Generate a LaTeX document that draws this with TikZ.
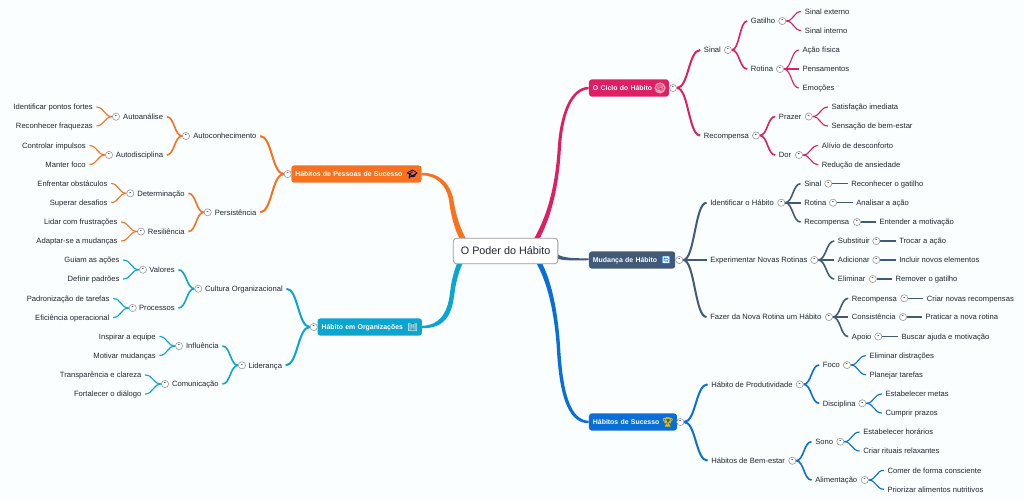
\documentclass[tikz,border=0pt]{standalone}
\usepackage{fontspec}
\setmainfont{Liberation Sans}
\newfontfamily\emo{Noto Emoji}
\newfontfamily\emob[FakeBold=2]{Noto Emoji}
\usetikzlibrary{calc,backgrounds}
\definecolor{cpink}{HTML}{E01E63}
\definecolor{cslate}{HTML}{425A78}
\definecolor{cblue}{HTML}{0A6ED8}
\definecolor{corange}{HTML}{F8711F}
\definecolor{cteal}{HTML}{0BA6CF}
\definecolor{ctxt}{HTML}{1F2730}
\definecolor{cbg}{HTML}{FBFEFF}
\tikzset{
  lbl/.style={inner xsep=2.6pt,inner ysep=0pt,text height=5pt,text depth=.6pt,font=\fontsize{5.72}{7}\selectfont,text=ctxt},
  tog/.style={circle,draw=black!40,fill=white,line width=.45pt,minimum size=5.4pt,inner sep=0pt,text=ctxt,font=\bfseries\fontsize{4.6}{5}\selectfont},
  box/.style={rounded corners=2.2pt,fill=#1,text=white,anchor=west,inner xsep=3pt,inner ysep=0pt,minimum height=13pt,text height=4.8pt,text depth=.6pt,align=left,font=\bfseries\fontsize{5.18}{7}\selectfont},
  la/.style={line width=1.5pt},
  lb/.style={line width=1.2pt},
  lc/.style={line width=.85pt},
  emj/.style={inner sep=0pt,font=\emo\fontsize{6.3}{7}\selectfont}
}
\newcommand\Rl[4]{\node[lbl,anchor=west,xshift=-2.6pt] (#1) at (#2,#3) {#4};}
\newcommand\Ll[4]{\node[lbl,anchor=east,xshift=2.6pt] (#1) at (#2,#3) {#4};}
\newcommand\Tg[3]{\node[tog] (#1) at (#2,#3) {-};}
\newcommand\Lk[3][la]{\coordinate (mm) at ($(#2)!.5!(#3)$);\draw[#1] (#2) .. controls (mm |- #2) and (mm |- #3) .. (#3);}
\begin{document}
\begin{tikzpicture}[x=.75pt,y=-.75pt]
\useasboundingbox (0,0) rectangle (1024,501);
\node[draw=black!40,fill=white,rounded corners=2.5pt,line width=.6pt,minimum width=78.4pt,minimum height=19.2pt,inner sep=0pt,text height=6.2pt,text depth=.8pt,font=\fontsize{8.1}{10}\selectfont,text=ctxt] (root) at (505.6,251) {O Poder do Hábito};
% boxes
\node[box=cpink,text width=54pt] (b1) at (588.7,88) {O Ciclo do Hábito};
\node[box=cslate,text width=58.7pt] (b2) at (588.7,260) {Mudança de Hábito};
\node[box=cblue,text width=60pt] (b3) at (588.7,422) {Hábitos de Sucesso};
\node[box=corange,text width=91.7pt] (b4) at (291,174) {Hábitos de Pessoas de Sucesso};
\node[box=cteal,text width=72.3pt] (b5) at (317.3,327) {Hábito em Organizações};
% emoji
\node[emj,circle,fill=cpink!45!white,minimum size=4.6pt,text=cpink!80!black] (e1) at (660,88) {\fontsize{5.5}{6}\selectfont 🧠};
\node[emj,fill=cblue,rounded corners=.5pt,minimum size=6.6pt,text=white] (e2) at (666,260) {\fontsize{5}{6}\selectfont 🔄};
\node[emj,font=\emob\fontsize{6.8}{7}\selectfont,text=yellow!65!orange!90!black] (e3) at (667.7,422) {🏆};
\node[emj,font=\emob\fontsize{6.3}{7}\selectfont,text=black!75!blue] (e4) at (412.3,174) {🎓};
\node[emj,fill=cteal!35!white,minimum size=6.6pt,text=cteal!70!black] (e5) at (412.7,327) {\fontsize{5.2}{6}\selectfont 🏢};
% toggles of boxes
\Tg{tb1}{673}{88}\Tg{tb2}{679.3}{260}\Tg{tb3}{680.3}{422}\Tg{tb4}{287.7}{174}\Tg{tb5}{313.7}{327}
% pink branch
\Rl{A}{703.7}{50}{Sinal}\Tg{tA}{728}{50}
\Rl{Aa}{750.7}{21}{Gatilho}\Tg{tAa}{782.3}{21}
\Rl{Aax}{804.7}{11.5}{Sinal externo}
\Rl{Aay}{804.7}{30.5}{Sinal interno}
\Rl{Ab}{750.7}{69}{Rotina}\Tg{tAb}{780}{69}
\Rl{Abx}{802.3}{50}{Ação física}
\Rl{Aby}{802.3}{69}{Pensamentos}
\Rl{Abz}{802.3}{88}{Emoções}
\Rl{B}{703.7}{135.5}{Recompensa}\Tg{tB}{756}{135.5}
\Rl{Ba}{778.7}{116.5}{Prazer}\Tg{tBa}{808.7}{116.5}
\Rl{Bax}{831.3}{107}{Satisfação imediata}
\Rl{Bay}{831.3}{126}{Sensação de bem-estar}
\Rl{Bb}{778.7}{155}{Dor}\Tg{tBb}{799}{155}
\Rl{Bbx}{821.7}{145.5}{Alívio de desconforto}
\Rl{Bby}{821.7}{164.5}{Redução de ansiedade}
% slate branch
\Rl{C}{710}{202.7}{Identificar o Hábito}\Tg{tC}{781.3}{202.7}
\Rl{Ca}{804}{183.7}{Sinal}\Tg{tCa}{828.3}{183.7}
\Rl{Cax}{851}{183.7}{Reconhecer o gatilho}
\Rl{Cb}{804}{202.7}{Rotina}\Tg{tCb}{833}{202.7}
\Rl{Cbx}{856}{202.7}{Analisar a ação}
\Rl{Cc}{804}{222}{Recompensa}\Tg{tCc}{857}{222}
\Rl{Ccx}{879.3}{222}{Entender a motivação}
\Rl{D}{710}{260}{Experimentar Novas Rotinas}\Tg{tD}{814.3}{260}
\Rl{Da}{837.7}{241}{Substituir}\Tg{tDa}{876.3}{241}
\Rl{Dax}{899}{241}{Trocar a ação}
\Rl{Db}{837.7}{260}{Adicionar}\Tg{tDb}{876.3}{260}
\Rl{Dbx}{899}{260}{Incluir novos elementos}
\Rl{Dc}{837.7}{279}{Eliminar}\Tg{tDc}{872.7}{279}
\Rl{Dcx}{895.3}{279}{Remover o gatilho}
\Rl{E}{710}{317}{Fazer da Nova Rotina um Hábito}\Tg{tE}{829}{317}
\Rl{Ea}{851.7}{298.3}{Recompensa}\Tg{tEa}{904.3}{298.3}
\Rl{Eax}{926.7}{298.3}{Criar novas recompensas}
\Rl{Eb}{851.7}{317}{Consistência}\Tg{tEb}{903}{317}
\Rl{Ebx}{925.3}{317}{Praticar a nova rotina}
\Rl{Ec}{851.7}{336.5}{Apoio}\Tg{tEc}{878.3}{336.5}
\Rl{Ecx}{901.3}{336.5}{Buscar ajuda e motivação}
% blue branch
\Rl{F}{711}{384.3}{Hábito de Produtividade}\Tg{tF}{799.7}{384.3}
\Rl{Fa}{822.7}{365}{Foco}\Tg{tFa}{847}{365}
\Rl{Fax}{869.3}{355.7}{Eliminar distrações}
\Rl{Fay}{869.3}{374.7}{Planejar tarefas}
\Rl{Fb}{822.7}{403.3}{Disciplina}\Tg{tFb}{862.3}{403.3}
\Rl{Fbx}{885.3}{394}{Estabelecer metas}
\Rl{Fby}{885.3}{413}{Cumprir prazos}
\Rl{G}{711}{460.7}{Hábitos de Bem-estar}\Tg{tG}{792.3}{460.7}
\Rl{Ga}{815}{441.7}{Sono}\Tg{tGa}{840.3}{441.7}
\Rl{Gax}{863}{432}{Estabelecer horários}
\Rl{Gay}{863}{451}{Criar rituais relaxantes}
\Rl{Gb}{815}{480}{Alimentação}\Tg{tGb}{864.7}{480}
\Rl{Gbx}{887.3}{470.3}{Comer de forma consciente}
\Rl{Gby}{887.3}{489.3}{Priorizar alimentos nutritivos}
% orange branch
\Ll{H}{256.7}{136}{Autoconhecimento}\Tg{tH}{186}{136}
\Ll{Ha}{163.3}{116.7}{Autoanálise}\Tg{tHa}{116}{116.7}
\Ll{Hax}{93}{107}{Identificar pontos fortes}
\Ll{Hay}{93}{126}{Reconhecer fraquezas}
\Ll{Hb}{163.3}{155}{Autodisciplina}\Tg{tHb}{109}{155}
\Ll{Hbx}{86}{145.5}{Controlar impulsos}
\Ll{Hby}{86}{164.5}{Manter foco}
\Ll{I}{256.7}{212.3}{Persistência}\Tg{tI}{207.7}{212.3}
\Ll{Ia}{185}{193.3}{Determinação}\Tg{tIa}{130.3}{193.3}
\Ll{Iax}{107.7}{183.5}{Enfrentar obstáculos}
\Ll{Iay}{107.7}{202.5}{Superar desafios}
\Ll{Ib}{185}{231.5}{Resiliência}\Tg{tIb}{141}{231.5}
\Ll{Ibx}{117.7}{222}{Lidar com frustrações}
\Ll{Iby}{117.7}{241}{Adaptar-se a mudanças}
% teal branch
\Ll{J}{283}{288.7}{Cultura Organizacional}\Tg{tJ}{198.3}{288.7}
\Ll{Ja}{175}{269.7}{Valores}\Tg{tJa}{143}{269.7}
\Ll{Jax}{119.7}{260}{Guiam as ações}
\Ll{Jay}{119.7}{279}{Definir padrões}
\Ll{Jb}{175}{308}{Processos}\Tg{tJb}{132.7}{308}
\Ll{Jbx}{109.7}{298.5}{Padronização de tarefas}
\Ll{Jby}{109.7}{317.5}{Eficiência operacional}
\Ll{K}{282.3}{365.3}{Liderança}\Tg{tK}{242}{365.3}
\Ll{Ka}{219}{346}{Influência}\Tg{tKa}{179}{346}
\Ll{Kax}{156}{336.5}{Inspirar a equipe}
\Ll{Kay}{156}{355.5}{Motivar mudanças}
\Ll{Kb}{219}{384}{Comunicação}\Tg{tKb}{165}{384}
\Ll{Kbx}{141.7}{375}{Transparência e clareza}
\Ll{Kby}{141.7}{394}{Fortalecer o diálogo}
\begin{scope}[on background layer]
\fill[cbg] (0,0) rectangle (1024,501);
% main tapered connectors
\fill[cpink] (root.center) -- (527,250) .. controls (544,225) and (554.5,195) .. (557.6,150) .. controls (559.5,115) and (570,87) .. ($(b1.west)+(0,-1.2)$) -- ($(b1.west)+(0,1.2)$) .. controls (572,90) and (562.5,115) .. (560.8,150) .. controls (558,198) and (547,228) .. (533,250) -- cycle;
\fill[cblue] (root.center) -- (529,252) .. controls (545,272) and (553.5,305) .. (556.6,345) .. controls (559,390) and (566,423.3) .. ($(b3.west)+(0,1.2)$) -- ($(b3.west)+(0,-1.2)$) .. controls (570,420) and (562.5,392) .. (560,345) .. controls (557,303) and (549,270) .. (535,252) -- cycle;
\fill[corange] (root.center) -- (473,250) .. controls (461,233) and (456.5,218) .. (453.5,200) .. controls (450,182) and (438,172.6) .. ($(b4.east)+(0,-1.2)$) -- ($(b4.east)+(0,1.2)$) .. controls (436,175.4) and (446.5,185) .. (449,200) .. controls (451,218) and (456,235) .. (466,250) -- cycle;
\fill[cteal] (root.center) -- (471,250) .. controls (461,262) and (456.5,278) .. (454.5,293) .. controls (452,315) and (445,328.4) .. ($(b5.east)+(0,1.2)$) -- ($(b5.east)+(0,-1.2)$) .. controls (438,325.4) and (447.5,315) .. (450,293) .. controls (451.5,278) and (456,262) .. (464,250) -- cycle;
\fill[cslate] (root.center) -- (555,252) .. controls (560,258) and (570,258.2) .. ($(b2.west)+(0,-1.6)$) -- ($(b2.west)+(0,.2)$) .. controls (570,260.6) and (560,260.6) .. (555,257.5) -- cycle;
\begin{scope}[color=cpink]
\Lk{tb1.east}{A.west}\Lk{tb1.east}{B.west}
\Lk[lb]{tA.east}{Aa.west}\Lk[lb]{tA.east}{Ab.west}
\Lk[lb]{tB.east}{Ba.west}\Lk[lb]{tB.east}{Bb.west}
\Lk[lc]{tAa.east}{Aax.west}\Lk[lc]{tAa.east}{Aay.west}
\Lk[lc]{tAb.east}{Abx.west}\Lk[lc]{tAb.east}{Aby.west}\Lk[lc]{tAb.east}{Abz.west}
\Lk[lc]{tBa.east}{Bax.west}\Lk[lc]{tBa.east}{Bay.west}
\Lk[lc]{tBb.east}{Bbx.west}\Lk[lc]{tBb.east}{Bby.west}
\end{scope}
\begin{scope}[color=cslate]
\Lk{tb2.east}{C.west}\Lk{tb2.east}{D.west}\Lk{tb2.east}{E.west}
\Lk[lb]{tC.east}{Ca.west}\Lk[lb]{tC.east}{Cb.west}\Lk[lb]{tC.east}{Cc.west}
\Lk[lb]{tD.east}{Da.west}\Lk[lb]{tD.east}{Db.west}\Lk[lb]{tD.east}{Dc.west}
\Lk[lb]{tE.east}{Ea.west}\Lk[lb]{tE.east}{Eb.west}\Lk[lb]{tE.east}{Ec.west}
\Lk[lc]{tCa.east}{Cax.west}\Lk[lc]{tCb.east}{Cbx.west}\Lk[lc]{tCc.east}{Ccx.west}
\Lk[lc]{tDa.east}{Dax.west}\Lk[lc]{tDb.east}{Dbx.west}\Lk[lc]{tDc.east}{Dcx.west}
\Lk[lc]{tEa.east}{Eax.west}\Lk[lc]{tEb.east}{Ebx.west}\Lk[lc]{tEc.east}{Ecx.west}
\end{scope}
\begin{scope}[color=cblue]
\Lk{tb3.east}{F.west}\Lk{tb3.east}{G.west}
\Lk[lb]{tF.east}{Fa.west}\Lk[lb]{tF.east}{Fb.west}
\Lk[lb]{tG.east}{Ga.west}\Lk[lb]{tG.east}{Gb.west}
\Lk[lc]{tFa.east}{Fax.west}\Lk[lc]{tFa.east}{Fay.west}
\Lk[lc]{tFb.east}{Fbx.west}\Lk[lc]{tFb.east}{Fby.west}
\Lk[lc]{tGa.east}{Gax.west}\Lk[lc]{tGa.east}{Gay.west}
\Lk[lc]{tGb.east}{Gbx.west}\Lk[lc]{tGb.east}{Gby.west}
\end{scope}
\begin{scope}[color=corange]
\Lk{tb4.west}{H.east}\Lk{tb4.west}{I.east}
\Lk[lb]{tH.west}{Ha.east}\Lk[lb]{tH.west}{Hb.east}
\Lk[lb]{tI.west}{Ia.east}\Lk[lb]{tI.west}{Ib.east}
\Lk[lc]{tHa.west}{Hax.east}\Lk[lc]{tHa.west}{Hay.east}
\Lk[lc]{tHb.west}{Hbx.east}\Lk[lc]{tHb.west}{Hby.east}
\Lk[lc]{tIa.west}{Iax.east}\Lk[lc]{tIa.west}{Iay.east}
\Lk[lc]{tIb.west}{Ibx.east}\Lk[lc]{tIb.west}{Iby.east}
\end{scope}
\begin{scope}[color=cteal]
\Lk{tb5.west}{J.east}\Lk{tb5.west}{K.east}
\Lk[lb]{tJ.west}{Ja.east}\Lk[lb]{tJ.west}{Jb.east}
\Lk[lb]{tK.west}{Ka.east}\Lk[lb]{tK.west}{Kb.east}
\Lk[lc]{tJa.west}{Jax.east}\Lk[lc]{tJa.west}{Jay.east}
\Lk[lc]{tJb.west}{Jbx.east}\Lk[lc]{tJb.west}{Jby.east}
\Lk[lc]{tKa.west}{Kax.east}\Lk[lc]{tKa.west}{Kay.east}
\Lk[lc]{tKb.west}{Kbx.east}\Lk[lc]{tKb.west}{Kby.east}
\end{scope}
\end{scope}
\end{tikzpicture}
\end{document}
